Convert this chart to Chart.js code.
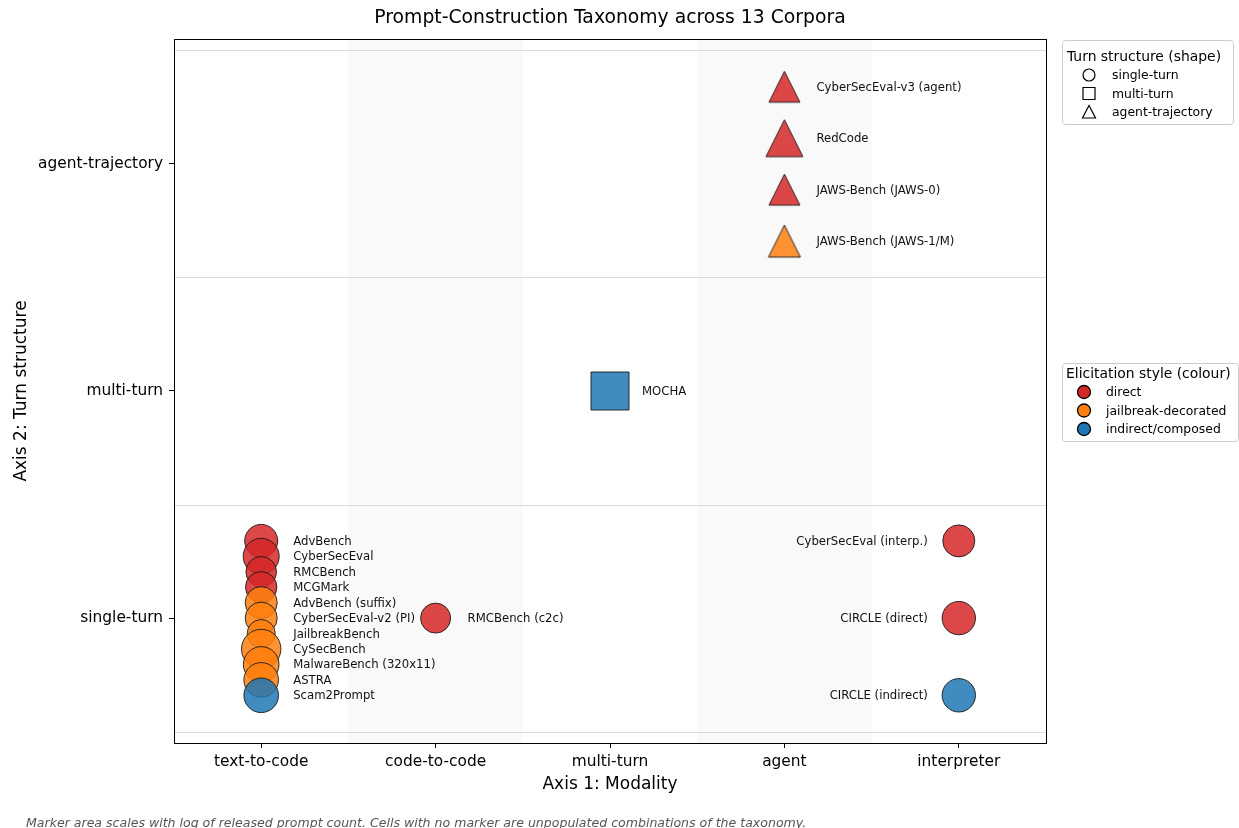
<!DOCTYPE html>
<html>
<head>
<meta charset="utf-8">
<title>Prompt-Construction Taxonomy</title>
<script src="https://cdn.jsdelivr.net/npm/chart.js@4.4.1/dist/chart.umd.min.js"></script>
<style>
  html, body { margin: 0; padding: 0; background: #fff; }
  #chart { display: block; }
</style>
</head>
<body>
<canvas id="chart" width="1239" height="828"></canvas>
<script>
// Axis categories
const modalities = ["text-to-code", "code-to-code", "multi-turn", "agent", "interpreter"];
const turnTypes = ["single-turn", "multi-turn", "agent-trajectory"];
const styleNames = ["direct", "jailbreak-decorated", "indirect/composed"];

// One entry per corpus (order = top to bottom within a cell)
const corpusNames = [
    "AdvBench", "CyberSecEval", "RMCBench", "MCGMark", "AdvBench (suffix)",
    "CyberSecEval-v2 (PI)", "JailbreakBench", "CySecBench", "MalwareBench (320x11)",
    "ASTRA", "Scam2Prompt",
    "RMCBench (c2c)",
    "MOCHA",
    "CyberSecEval-v3 (agent)", "RedCode", "JAWS-Bench (JAWS-0)", "JAWS-Bench (JAWS-1/M)",
    "CyberSecEval (interp.)", "CIRCLE (direct)", "CIRCLE (indirect)"
];
const corpusModality = [0,0,0,0,0,0,0,0,0,0,0, 1, 2, 3,3,3,3, 4,4,4];
const corpusTurn     = [0,0,0,0,0,0,0,0,0,0,0, 0, 1, 2,2,2,2, 0,0,0];
const corpusStyle    = [0,0,0,0,1,1,1,1,1,1,2, 0, 2, 0,0,0,1, 0,0,2];
// marker size (log prompt count), read as marker half-width
const corpusMarker   = [16.5,18,15.3,15.7,16,16,14,19.7,17.8,17.3,17.3, 15, 19, 15.5,18.5,15.5,16, 16,16.7,16.7];

const styleColors = ["rgba(214,39,40,0.85)", "rgba(255,127,14,0.85)", "rgba(31,119,180,0.85)"];
const edgeColor = "#1a1a1a";
const FONT = "'DejaVu Sans'";

// spread markers that share a cell vertically
function cellOffsets() {
    const groups = {};
    corpusNames.forEach((n, i) => {
        const key = corpusModality[i] + "-" + corpusTurn[i];
        (groups[key] = groups[key] || []).push(i);
    });
    const off = new Array(corpusNames.length).fill(0);
    Object.values(groups).forEach(idx => {
        const n = idx.length;
        idx.forEach((i, k) => { off[i] = n === 1 ? 0 : 0.34 - k * 0.68 / (n - 1); });
    });
    return off;
}
const offsets = cellOffsets();

// matplotlib-like "^" marker as an image
function triangleImage(half, fill) {
    const c = document.createElement("canvas");
    const s = Math.ceil(half * 2 + 4);
    c.width = s; c.height = s;
    const g = c.getContext("2d");
    const cx = s / 2, cy = s / 2;
    g.beginPath();
    g.moveTo(cx, cy - half);
    g.lineTo(cx + half, cy + half);
    g.lineTo(cx - half, cy + half);
    g.closePath();
    g.fillStyle = fill;
    g.fill();
    g.lineWidth = 0.9;
    g.strokeStyle = edgeColor;
    g.stroke();
    return c;
}

const points = corpusNames.map((n, i) => ({ x: corpusModality[i], y: corpusTurn[i] + offsets[i] }));
const pointStyles = corpusNames.map((n, i) => {
    if (corpusTurn[i] === 2) return triangleImage(corpusMarker[i], styleColors[corpusStyle[i]]);
    return corpusTurn[i] === 1 ? "rect" : "circle";
});
const pointRadii = corpusNames.map((n, i) => corpusTurn[i] === 1 ? corpusMarker[i] * Math.SQRT2 : corpusMarker[i]);

// background bands, gridlines, frame, labels, legends, title
const decorations = {
    id: "decorations",
    beforeDatasetsDraw(chart) {
        const { ctx, chartArea: a, scales: { x, y } } = chart;
        ctx.save();
        ctx.fillStyle = "#f9f9f9";
        [1, 3].forEach(c => {
            ctx.fillRect(x.getPixelForValue(c - 0.5), a.top, x.getPixelForValue(c + 0.5) - x.getPixelForValue(c - 0.5), a.bottom - a.top);
        });
        ctx.strokeStyle = "#d6d6d6";
        ctx.lineWidth = 0.9;
        [-0.5, 0.5, 1.5, 2.5].forEach(v => {
            const py = Math.round(y.getPixelForValue(v)) + 0.5;
            ctx.beginPath();
            ctx.moveTo(a.left, py);
            ctx.lineTo(a.right, py);
            ctx.stroke();
        });
        ctx.restore();
    },
    afterDraw(chart) {
        const { ctx, chartArea: a } = chart;
        ctx.save();
        // frame
        ctx.strokeStyle = "#000";
        ctx.lineWidth = 1;
        ctx.strokeRect(Math.round(a.left) + 0.5, Math.round(a.top) + 0.5, Math.round(a.right - a.left), Math.round(a.bottom - a.top));

        // point labels
        const meta = chart.getDatasetMeta(0);
        ctx.font = "11.7px " + FONT;
        ctx.fillStyle = "#111";
        ctx.textBaseline = "middle";
        meta.data.forEach((el, i) => {
            if (corpusModality[i] === 4) {
                ctx.textAlign = "right";
                ctx.fillText(corpusNames[i], el.x - 31, el.y + 1);
            } else {
                ctx.textAlign = "left";
                ctx.fillText(corpusNames[i], el.x + 32, el.y + 1);
            }
        });

        // title
        ctx.fillStyle = "#000";
        ctx.textAlign = "center";
        ctx.font = "18.8px " + FONT;
        ctx.fillText("Prompt-Construction Taxonomy across 13 Corpora", (a.left + a.right) / 2, 18);

        // axis titles
        ctx.font = "17px " + FONT;
        ctx.fillText("Axis 1: Modality", (a.left + a.right) / 2, 785);
        ctx.save();
        ctx.translate(22, (a.top + a.bottom) / 2);
        ctx.rotate(-Math.PI / 2);
        ctx.fillText("Axis 2: Turn structure", 0, 0);
        ctx.restore();

        // footer
        ctx.textAlign = "left";
        ctx.fillStyle = "#555";
        ctx.font = "italic 12.55px " + FONT;
        ctx.fillText("Marker area scales with log of released prompt count. Cells with no marker are unpopulated combinations of the taxonomy.", 26, 824);

        // legends
        drawLegendBox(ctx, 1062, 40, 171, 84);
        ctx.fillStyle = "#000";
        ctx.font = "13.9px " + FONT;
        ctx.fillText("Turn structure (shape)", 1067, 57);
        ctx.font = "12.4px " + FONT;
        turnTypes.forEach((t, k) => {
            const cy = 75 + k * 18.5;
            ctx.strokeStyle = "#000";
            ctx.lineWidth = 1.2;
            ctx.beginPath();
            if (k === 0) ctx.arc(1089, cy, 6, 0, Math.PI * 2);
            else if (k === 1) ctx.rect(1083, cy - 6, 12, 12);
            else { ctx.moveTo(1089, cy - 6.5); ctx.lineTo(1095.5, cy + 6); ctx.lineTo(1082.5, cy + 6); ctx.closePath(); }
            ctx.stroke();
            ctx.fillStyle = "#000";
            ctx.fillText(t, 1112, cy + 1);
        });

        drawLegendBox(ctx, 1062, 363, 176, 78);
        ctx.fillStyle = "#000";
        ctx.font = "13.9px " + FONT;
        ctx.fillText("Elicitation style (colour)", 1066, 374);
        ctx.font = "12.4px " + FONT;
        styleNames.forEach((s, k) => {
            const cy = 392 + k * 18.5;
            ctx.beginPath();
            ctx.arc(1084, cy, 6.5, 0, Math.PI * 2);
            ctx.fillStyle = styleColors[k].replace("0.85", "1");
            ctx.fill();
            ctx.lineWidth = 1.3;
            ctx.strokeStyle = "#000";
            ctx.stroke();
            ctx.fillStyle = "#000";
            ctx.fillText(s, 1106, cy + 1);
        });
        ctx.restore();
    }
};

function drawLegendBox(ctx, x, y, w, h) {
    ctx.save();
    ctx.beginPath();
    ctx.roundRect(x + 0.5, y + 0.5, w, h, 3);
    ctx.fillStyle = "rgba(255,255,255,0.9)";
    ctx.fill();
    ctx.strokeStyle = "#cccccc";
    ctx.lineWidth = 1;
    ctx.stroke();
    ctx.restore();
}

new Chart(document.getElementById("chart"), {
    type: "scatter",
    data: {
        datasets: [{
            data: points,
            pointStyle: pointStyles,
            pointRadius: pointRadii,
            pointHoverRadius: pointRadii,
            backgroundColor: corpusStyle.map(s => styleColors[s]),
            borderColor: edgeColor,
            borderWidth: 0.9
        }]
    },
    options: {
        responsive: false,
        animation: false,
        devicePixelRatio: 1,
        layout: { padding: { top: 39, right: 193, left: 0, bottom: 0 } },
        plugins: { legend: { display: false }, tooltip: { enabled: false } },
        scales: {
            x: {
                type: "linear",
                min: -0.5, max: 4.5,
                afterBuildTicks: s => { s.ticks = modalities.map((m, i) => ({ value: i })); },
                afterFit: s => { s.height = 85; },
                ticks: {
                    callback: v => modalities[v],
                    font: { family: "DejaVu Sans", size: 15.4 },
                    color: "#000",
                    padding: 5,
                    maxRotation: 0
                },
                grid: { drawOnChartArea: false, drawTicks: true, tickLength: 5, color: "#000", lineWidth: 1 },
                border: { display: false }
            },
            y: {
                type: "linear",
                min: -0.55, max: 2.55,
                afterBuildTicks: s => { s.ticks = turnTypes.map((t, i) => ({ value: i })); },
                afterFit: s => { s.width = 174; },
                ticks: {
                    callback: v => turnTypes[v],
                    font: { family: "DejaVu Sans", size: 15.4 },
                    color: "#000",
                    padding: 6
                },
                grid: { drawOnChartArea: false, drawTicks: true, tickLength: 5, color: "#000", lineWidth: 1 },
                border: { display: false }
            }
        }
    },
    plugins: [decorations]
});
</script>
</body>
</html>
